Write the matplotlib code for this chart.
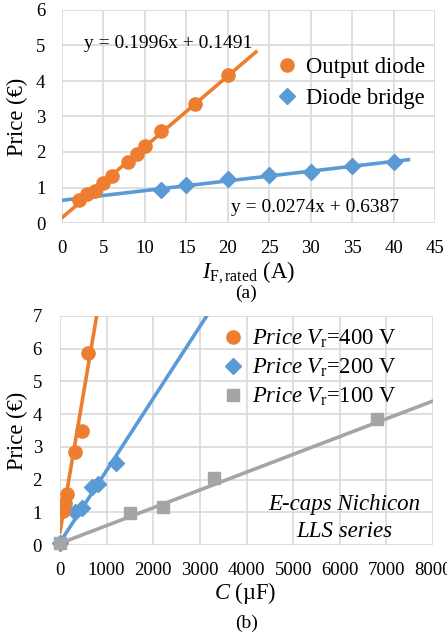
import numpy as np
import matplotlib
matplotlib.use("Agg")
import matplotlib.pyplot as plt

plt.rcParams['font.family'] = ['Liberation Serif', 'DejaVu Serif']
plt.rcParams['mathtext.fontset'] = 'custom'
plt.rcParams['mathtext.rm'] = 'Liberation Serif'
plt.rcParams['mathtext.it'] = 'Liberation Serif:italic'
plt.rcParams['mathtext.bf'] = 'Liberation Serif:bold'

# ---------- data (a) ----------
diode_x = [2, 3, 4, 5, 6, 8, 9, 10, 12, 16, 20]
diode_y = [0.66, 0.82, 0.91, 1.14, 1.31, 1.73, 1.95, 2.16, 2.58, 3.35, 4.17]
bridge_x = [12, 15, 20, 25, 30, 35, 40]
bridge_y = [0.92, 1.07, 1.25, 1.34, 1.43, 1.61, 1.73]
diode_fit = (0.1996, 0.1491)
bridge_fit = (0.0274, 0.6387)
diode_fit_range = (0, 23.4)
bridge_fit_range = (0, 41.8)
xticks_a = [0, 5, 10, 15, 20, 25, 30, 35, 40, 45]
yticks_a = [0, 1, 2, 3, 4, 5, 6]

# ---------- data (b) ----------
c400_x = [68, 100, 150, 330, 470, 600]
c400_y = [1.05, 1.27, 1.56, 2.83, 3.47, 5.88]
c200_x = [0, 330, 470, 680, 820, 1200]
c200_y = [0.07, 1.02, 1.12, 1.78, 1.87, 2.52]
c100_x = [0, 1500, 2200, 3300, 6800]
c100_y = [0.07, 0.97, 1.17, 2.04, 3.85]
fit400 = (0.0084, 0.40)
fit200 = (0.0022, 0.08)
fit100 = (0.000544, 0.05)
xticks_b = [0, 1000, 2000, 3000, 4000, 5000, 6000, 7000, 8000]
yticks_b = [0, 1, 2, 3, 4, 5, 6, 7]

ORANGE = '#ED7D31'
BLUE = '#5B9BD5'
GRAY = '#A5A5A5'
GRID = '#D9D9D9'
TFS = 13.5   # tick labels
LFS = 16.3   # legends / labels

W, H = 447, 637
fig = plt.figure(figsize=(W / 100, H / 100), dpi=100)


def style(ax, xpad, ypad):
    for s in ax.spines.values():
        s.set_visible(False)
    ax.grid(True, color=GRID, linewidth=1.2)
    ax.set_axisbelow(True)
    ax.tick_params(length=0, labelsize=TFS)
    ax.tick_params(axis='x', pad=xpad)
    ax.tick_params(axis='y', pad=ypad)


# ---------- panel (a) ----------
ax1 = fig.add_axes([62 / W, 1 - 223 / H, 373 / W, 213 / H])
style(ax1, 12, 12)
ax1.set_xlim(0, 45)
ax1.set_ylim(0, 6)
ax1.set_xticks(xticks_a)
ax1.set_yticks(yticks_a)

xx = np.array(bridge_fit_range)
ax1.plot(xx, bridge_fit[0] * xx + bridge_fit[1], color=BLUE, lw=2.6, zorder=2)
xx = np.array(diode_fit_range)
ax1.plot(xx, diode_fit[0] * xx + diode_fit[1], color=ORANGE, lw=2.6, zorder=3)
ax1.plot(bridge_x, bridge_y, 'D', color=BLUE, ms=8.5, label='Diode bridge', zorder=4)
ax1.plot(diode_x, diode_y, 'o', color=ORANGE, ms=9.5, label='Output diode', zorder=5)

h, l = ax1.get_legend_handles_labels()
ax1.legend(h[::-1], l[::-1], loc='upper left', bbox_to_anchor=(277 / W, 1 - 57 / H),
           bbox_transform=fig.transFigure, frameon=False, fontsize=LFS,
           handlelength=0.9, handletextpad=0.4, labelspacing=0.42, borderpad=0,
           borderaxespad=0)

ax1.text(12.8, 5.07, 'y = 0.1996x + 0.1491', fontsize=14, ha='center', va='center')
ax1.text(30.5, 0.45, 'y = 0.0274x + 0.6387', fontsize=14, ha='center', va='center')
ax1.set_ylabel('Price (€)', fontsize=LFS)
ax1.yaxis.set_label_coords((28 - 62) / 373, 0.5)
fig.text(248 / W, 1 - 278 / H, r'$I_{\mathrm{F,rated}}$ (A)', fontsize=LFS,
         ha='center', va='baseline')
fig.text(246 / W, 1 - 293 / H, '(a)', fontsize=14, ha='center', va='center')

# ---------- panel (b) ----------
ax2 = fig.add_axes([60 / W, 1 - 545 / H, 373 / W, 229 / H])
style(ax2, 12, 13)
ax2.set_xlim(0, 8000)
ax2.set_ylim(0, 7)
ax2.set_xticks(xticks_b)
ax2.set_yticks(yticks_b)

xx = np.array([0, 8000])
ax2.plot(xx, fit100[0] * xx + fit100[1], color=GRAY, lw=2.6, zorder=2)
ax2.plot(xx, fit200[0] * xx + fit200[1], color=BLUE, lw=2.6, zorder=3)
ax2.plot(xx, fit400[0] * xx + fit400[1], color=ORANGE, lw=2.6, zorder=4)
ax2.plot(c200_x, c200_y, 'D', color=BLUE, ms=8, zorder=5,
         label=r'$\mathit{Price}\ V_{\mathrm{r}}$=200 V', clip_on=False)
ax2.plot(c100_x, c100_y, 's', color=GRAY, ms=9, zorder=6,
         label=r'$\mathit{Price}\ V_{\mathrm{r}}$=100 V', clip_on=False)
ax2.plot(c400_x, c400_y, 'o', color=ORANGE, ms=9.5, zorder=7,
         label=r'$\mathit{Price}\ V_{\mathrm{r}}$=400 V')

h, l = ax2.get_legend_handles_labels()
order = [2, 0, 1]
ax2.legend([h[i] for i in order], [l[i] for i in order], loc='upper left',
           bbox_to_anchor=(223 / W, 1 - 328 / H), bbox_transform=fig.transFigure,
           frameon=False, fontsize=LFS, handlelength=0.9, handletextpad=0.4,
           labelspacing=0.3, borderpad=0, borderaxespad=0)

ax2.text(6094, 1.25, 'E-caps Nichicon', fontsize=16.5, style='italic', ha='center', va='center')
ax2.text(6094, 0.40, 'LLS series', fontsize=16.5, style='italic', ha='center', va='center')
ax2.set_ylabel('Price (€)', fontsize=LFS)
ax2.yaxis.set_label_coords((28 - 60) / 373, 0.5)
fig.text(245 / W, 1 - 599 / H, r'$C$ (µF)', fontsize=LFS, ha='center', va='baseline')
fig.text(247 / W, 1 - 623 / H, '(b)', fontsize=14, ha='center', va='center')

fig.savefig('out.png', dpi=100)
